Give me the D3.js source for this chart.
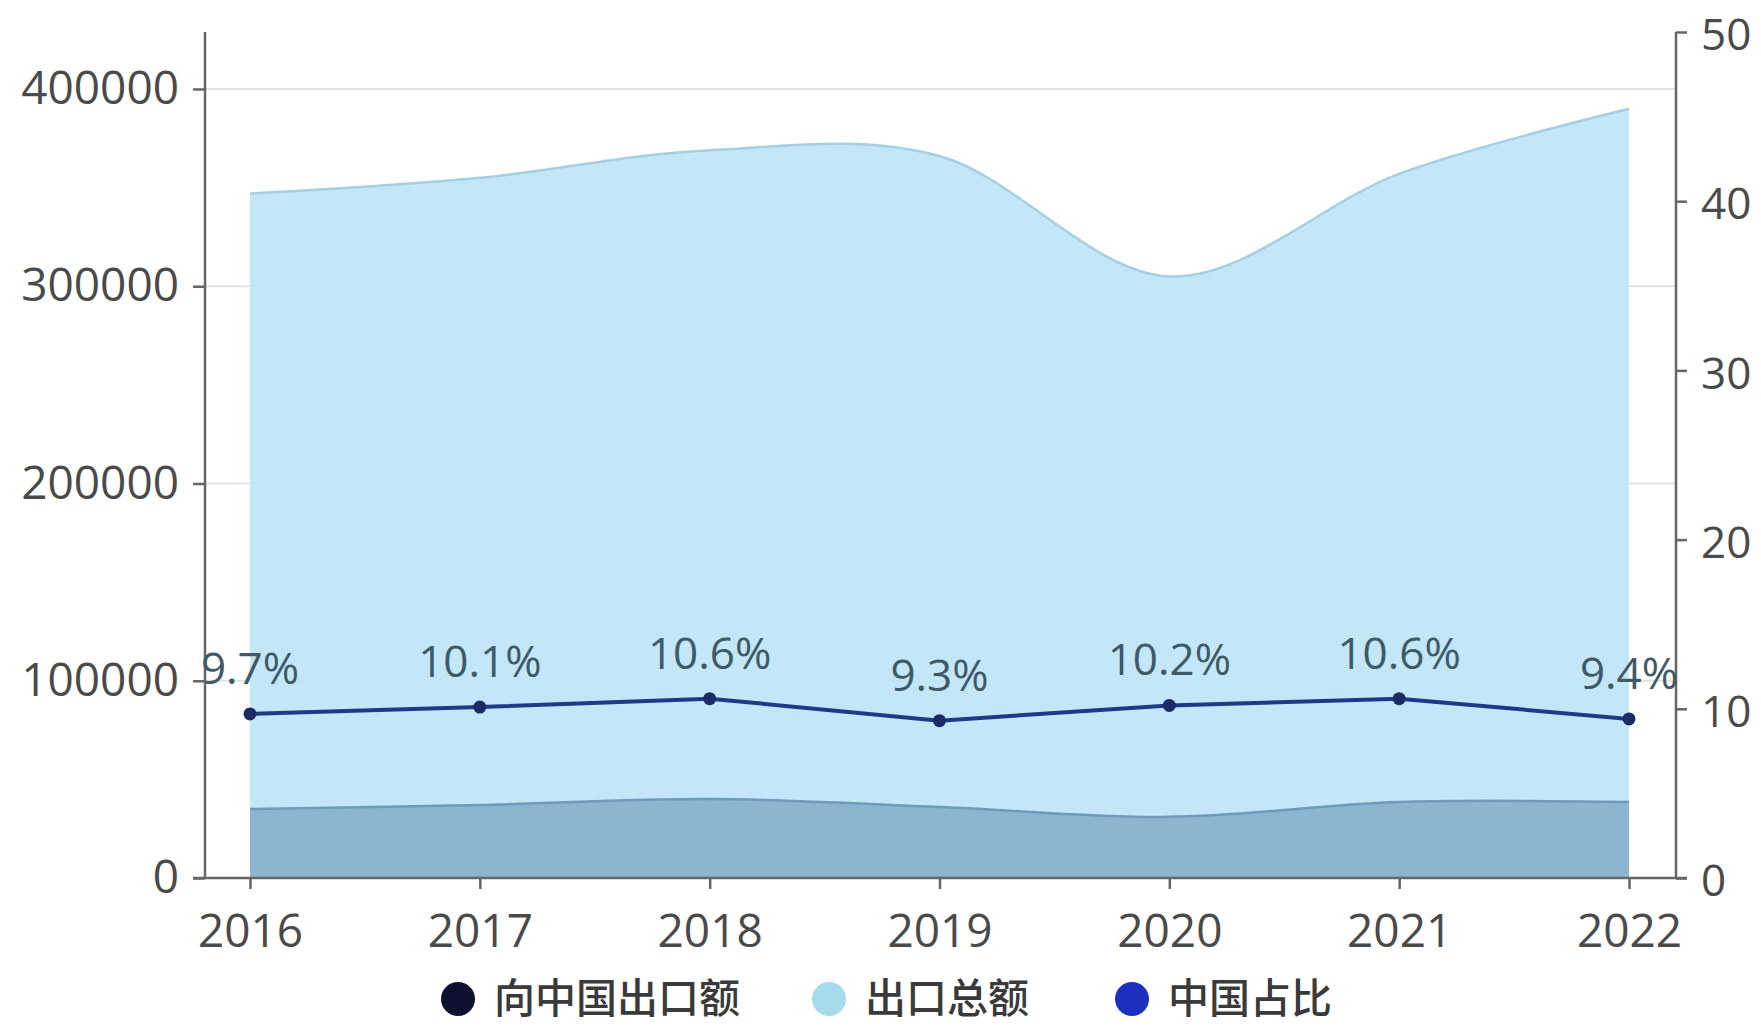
<!DOCTYPE html>
<html>
<head>
<meta charset="utf-8">
<script src="https://cdn.jsdelivr.net/npm/d3@7"></script>
<style>
  html, body { margin: 0; padding: 0; background: #ffffff; }
  svg { display: block; }
  .tick text { font-family: "Open Sans", "DejaVu Sans", sans-serif; fill: #4a4a4a; }
</style>
</head>
<body>
<svg id="chart" width="1761" height="1030"></svg>
<script>
// Years on the category axis
const years = ["2016", "2017", "2018", "2019", "2020", "2021", "2022"];
// 出口总额 (total exports)
const totalExports = [347000, 355000, 369000, 366000, 305000, 357000, 390000];
// 向中国出口额 (exports to China)
const chinaExports = [35000, 37000, 40000, 36000, 31000, 38500, 38500];
// 中国占比 (China share, %)
const chinaShare = [9.7, 10.1, 10.6, 9.3, 10.2, 10.6, 9.4];
// Axis tick values
const leftTicks = [0, 100000, 200000, 300000, 400000];
const rightTicks = [0, 10, 20, 30, 40, 50];
// Legend entries
const legendNames = ["向中国出口额", "出口总额", "中国占比"];
const legendColors = ["#0e1030", "#a6dbee", "#1c2fbf"];

const svg = d3.select("#chart");

const plot = { left: 205, right: 1676, top: 32, bottom: 878 };

const x = d3.scalePoint().domain(years).range([250, 1629]);
const yL = d3.scaleLinear().domain([0, 400000]).range([plot.bottom, 89]);
const yR = d3.scaleLinear().domain([0, 50]).range([plot.bottom, plot.top]);

// horizontal grid lines
svg.append("g")
  .selectAll("line")
  .data(leftTicks.filter(d => d > 0))
  .join("line")
  .attr("x1", plot.left).attr("x2", plot.right)
  .attr("y1", d => yL(d)).attr("y2", d => yL(d))
  .attr("stroke", "#e2e2e2").attr("stroke-width", 2);

const smooth = d3.curveCardinal.tension(0);

// area and outline generators shared by both amount series
const amountArea = d3.area()
  .x((d, i) => x(years[i]))
  .y0(yL(0))
  .y1(d => yL(d))
  .curve(smooth);
const amountLine = d3.line()
  .x((d, i) => x(years[i]))
  .y(d => yL(d))
  .curve(smooth);

// total exports
svg.append("path")
  .datum(totalExports)
  .attr("d", amountArea)
  .attr("fill", "#bfe4f9")
  .attr("fill-opacity", 0.94);
svg.append("path")
  .datum(totalExports)
  .attr("d", amountLine)
  .attr("fill", "none")
  .attr("stroke", "#a5cfe2")
  .attr("stroke-width", 2.5);

// exports to China
svg.append("path")
  .datum(chinaExports)
  .attr("d", amountArea)
  .attr("fill", "#8cb5cf");
svg.append("path")
  .datum(chinaExports)
  .attr("d", amountLine)
  .attr("fill", "none")
  .attr("stroke", "#6f9bb8")
  .attr("stroke-width", 2.5);

// axes
const gL = svg.append("g")
  .attr("transform", `translate(${plot.left},0)`)
  .call(d3.axisLeft(yL).tickValues(leftTicks).tickSize(12).tickPadding(14).tickFormat(d3.format("d")));
const gR = svg.append("g")
  .attr("transform", `translate(${plot.right},0)`)
  .call(d3.axisRight(yR).tickValues(rightTicks).tickSize(11).tickPadding(14).tickFormat(d3.format("d")));
const gB = svg.append("g")
  .attr("transform", `translate(0,${plot.bottom})`)
  .call(d3.axisBottom(x).tickSize(11).tickPadding(25));

[gL, gR, gB].forEach(g => {
  g.select(".domain").remove();
  g.selectAll(".tick line").attr("stroke", "#666").attr("stroke-width", 2.5);
  g.selectAll(".tick text").attr("font-size", 46);
});
// right-hand labels sit a touch lower so the top one stays inside the frame
gR.selectAll(".tick text").attr("font-size", 44).attr("dy", "0.4em");

// axis lines
svg.append("line")
  .attr("x1", plot.left).attr("x2", plot.left)
  .attr("y1", plot.top).attr("y2", plot.bottom)
  .attr("stroke", "#666").attr("stroke-width", 2.5);
svg.append("line")
  .attr("x1", plot.right).attr("x2", plot.right)
  .attr("y1", plot.top).attr("y2", plot.bottom)
  .attr("stroke", "#666").attr("stroke-width", 2.5);
svg.append("line")
  .attr("x1", plot.left - 12).attr("x2", plot.right + 11)
  .attr("y1", plot.bottom).attr("y2", plot.bottom)
  .attr("stroke", "#666").attr("stroke-width", 2.5);

// China share line with markers and value labels
const shareLine = d3.line()
  .x((d, i) => x(years[i]))
  .y(d => yR(d));
svg.append("path")
  .datum(chinaShare)
  .attr("d", shareLine)
  .attr("fill", "none")
  .attr("stroke", "#1d3a88")
  .attr("stroke-width", 4);
svg.append("g")
  .selectAll("circle")
  .data(chinaShare)
  .join("circle")
  .attr("cx", (d, i) => x(years[i]))
  .attr("cy", d => yR(d))
  .attr("r", 6.5)
  .attr("fill", "#1a2b66");
svg.append("g")
  .selectAll("text")
  .data(chinaShare)
  .join("text")
  .attr("x", (d, i) => x(years[i]))
  .attr("y", d => yR(d) - 30)
  .attr("text-anchor", "middle")
  .attr("font-family", "'Open Sans', 'DejaVu Sans', sans-serif")
  .attr("font-size", 44)
  .attr("fill", "#3e5a66")
  .text(d => d + "%");

// legend
const legendX = [458, 829, 1132];
const legend = svg.append("g")
  .selectAll("g")
  .data(legendNames)
  .join("g")
  .attr("transform", (d, i) => `translate(${legendX[i]},999)`);
legend.append("circle")
  .attr("r", 17)
  .attr("fill", (d, i) => legendColors[i]);
legend.append("text")
  .attr("x", 36)
  .attr("y", 14)
  .attr("font-family", "'Noto Sans CJK SC', sans-serif")
  .attr("font-size", 41)
  .attr("font-weight", 500)
  .attr("fill", "#3a3a3a")
  .text(d => d);
</script>
</body>
</html>
